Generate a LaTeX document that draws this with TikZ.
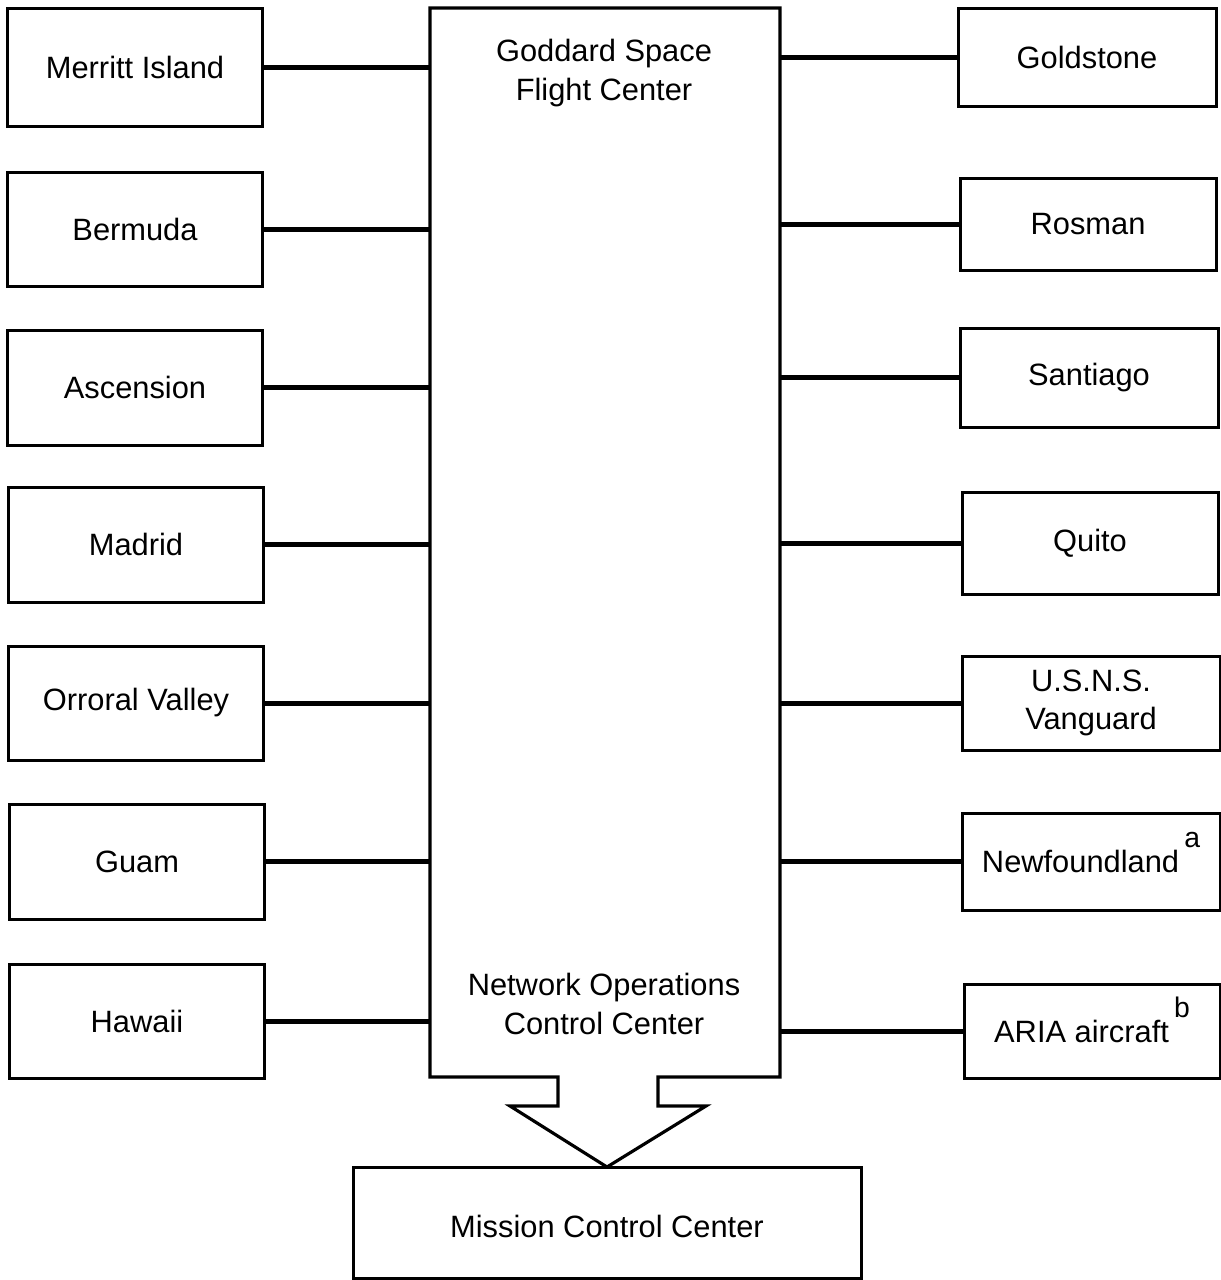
\documentclass[tikz,border=0pt]{standalone}
\usepackage{fontspec}
\setmainfont{Liberation Sans}
\newcommand{\supmark}[1]{\smash{\raisebox{0.8em}{\fontsize{17}{17}\selectfont #1}}}
\begin{document}
\begin{tikzpicture}[x=0.6pt,y=-0.6pt,
  box/.style={draw=black,line width=1.8pt,fill=white,inner sep=0pt,minimum width=153pt,align=center,
    font=\fontsize{18.5}{23}\selectfont},
  link/.style={line width=3pt},
  lbl/.style={align=center,inner sep=0pt,font=\fontsize{18.5}{23}\selectfont}]
\useasboundingbox (0,0) rectangle (1221,1280);
% central box with arrow
\node[inner sep=0pt,minimum width=210pt,minimum height=640.8pt] (gsfc) at (605,542) {};
\draw[line width=1.9pt,line join=miter] (430,8) -- (780,8) -- (780,1077) -- (658,1077) -- (658,1106) -- (706,1106)
  -- (607,1167) -- (510,1106) -- (558,1106) -- (558,1077) -- (430,1077) -- cycle;
\node[lbl] (gt) at (604,73) {Goddard Space\\Flight Center};
\node[lbl] (nt) at (604,1004) {Network Operations\\Control Center};
% mission control
\node[box,minimum width=304.8pt,minimum height=66.6pt] (mcc) at (607,1222.5) {};
\node[lbl] (mcct) at (607,1226) {Mission Control Center};
% left stations
\node[box,minimum height=70.8pt] (mi) at (135,67) {Merritt Island};
\node[box,minimum height=68.4pt] (be) at (135,229) {Bermuda};
\node[box,minimum height=69pt] (as) at (135,387.5) {Ascension};
\node[box,minimum height=69pt] (ma) at (136,544.5) {Madrid};
\node[box,minimum height=68.4pt] (ov) at (136,703) {Orroral Valley};
\node[box,minimum height=69pt] (gu) at (137,861.5) {Guam};
\node[box,minimum height=68.4pt] (ha) at (137,1021) {Hawaii};
% right stations
\node[box,minimum width=154.8pt,minimum height=58.8pt] (go) at (1087,57) {Goldstone};
\node[box,minimum width=153.6pt,minimum height=55.2pt] (ro) at (1088,224) {Rosman};
\node[box,minimum width=154.8pt,minimum height=59.4pt] (sa) at (1089,377.5) {Santiago};
\node[box,minimum width=153.6pt,minimum height=61.2pt] (qu) at (1090,543) {Quito};
\node[box,minimum width=154.8pt,minimum height=56.4pt] (us) at (1091,703) {U.S.N.S.\\Vanguard};
\node[box,minimum width=154.8pt,minimum height=58.2pt] (nf) at (1091,861.5) {Newfoundland\,\supmark{a}};
\node[box,minimum width=153.6pt,minimum height=56.4pt] (ar) at (1092,1031) {ARIA aircraft\,\supmark{b}};
% connectors
\foreach \n in {mi,be,as,ma,ov,gu,ha}{\draw[link] (\n.east) -- (\n.east -| gsfc.west);}
\foreach \n in {go,ro,sa,qu,us,nf,ar}{\draw[link] (\n.west) -- (\n.west -| gsfc.east);}
\end{tikzpicture}
\end{document}
